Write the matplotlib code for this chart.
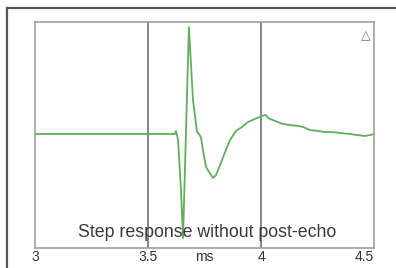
import matplotlib
matplotlib.use("Agg")
import matplotlib.pyplot as plt
from matplotlib.lines import Line2D

# Data (time in ms, amplitude in arbitrary units, baseline = 0)
time_ms = [3.0, 3.6195, 3.624, 3.633, 3.646, 3.655, 3.681, 3.699, 3.717, 3.726,
           3.735, 3.743, 3.757, 3.770, 3.788, 3.801, 3.819, 3.841, 3.863, 3.889,
           3.916, 3.942, 3.973, 4.004, 4.022, 4.031, 4.062, 4.097, 4.128, 4.164,
           4.186, 4.217, 4.252, 4.283, 4.314, 4.350, 4.394, 4.425, 4.460, 4.482, 4.500]
amplitude = [0, 0, 3, -6, -56, -104, 107, 34, 2, 0,
             -4, -16, -33, -38, -44, -41, -31, -18, -6, 3,
             7, 12, 15, 18, 19, 16, 13, 10, 9, 8,
             7, 4, 3, 2, 2, 1, 0, -1, -2, -1, 0]

tick_values = [3.0, 3.5, 4.0, 4.5]
tick_labels = ["3", "3.5", "4", "4.5"]
grid_positions = [3.5, 4.0]
unit_label = "ms"
caption = "Step response without post-echo"

W, H = 396, 268
fig = plt.figure(figsize=(W / 100, H / 100), dpi=100)
fig.patch.set_facecolor("white")

ax = fig.add_axes([35 / W, (H - 248) / H, 339 / W, 226 / H])
ax.plot(time_ms, amplitude, color="#62ae5e", lw=1.3, zorder=3)
for g in grid_positions:
    ax.axvline(g, color="#666666", lw=1.1, zorder=2)

ax.set_xlim(3.0, 4.5)
ax.set_ylim(-114, 112)
ax.set_yticks([])
ax.set_xticks(tick_values)
ax.set_xticklabels(tick_labels, fontsize=10, color="#333333", family="Liberation Sans")
ax.tick_params(axis="x", length=0, pad=1.5)
labs = ax.get_xticklabels()
labs[-1].set_horizontalalignment("right")
for s in ax.spines.values():
    s.set_color("#a0a0a0")
    s.set_linewidth(1.2)

ax.text(3.75, -0.009, unit_label, transform=ax.get_xaxis_transform(),
        ha="center", va="top", fontsize=10, color="#333333", family="Liberation Sans")
ax.text(0.507, 0.03, caption, transform=ax.transAxes, ha="center", va="bottom",
        fontsize=12.8, color="#3a3a3a", family="Liberation Sans", zorder=5)
ax.text(0.99, 0.97, "△", transform=ax.transAxes, ha="right", va="top",
        fontsize=9, color="#777777", family="DejaVu Sans")

# outer frame lines (top and left)
fig.add_artist(Line2D([6.5 / W, 1.0], [1 - 8 / H, 1 - 8 / H], transform=fig.transFigure,
                      color="#555555", lw=1.6))
fig.add_artist(Line2D([6.5 / W, 6.5 / W], [0, 1 - 8 / H], transform=fig.transFigure,
                      color="#555555", lw=1.6))

fig.savefig("out.png", dpi=100, facecolor="white")
